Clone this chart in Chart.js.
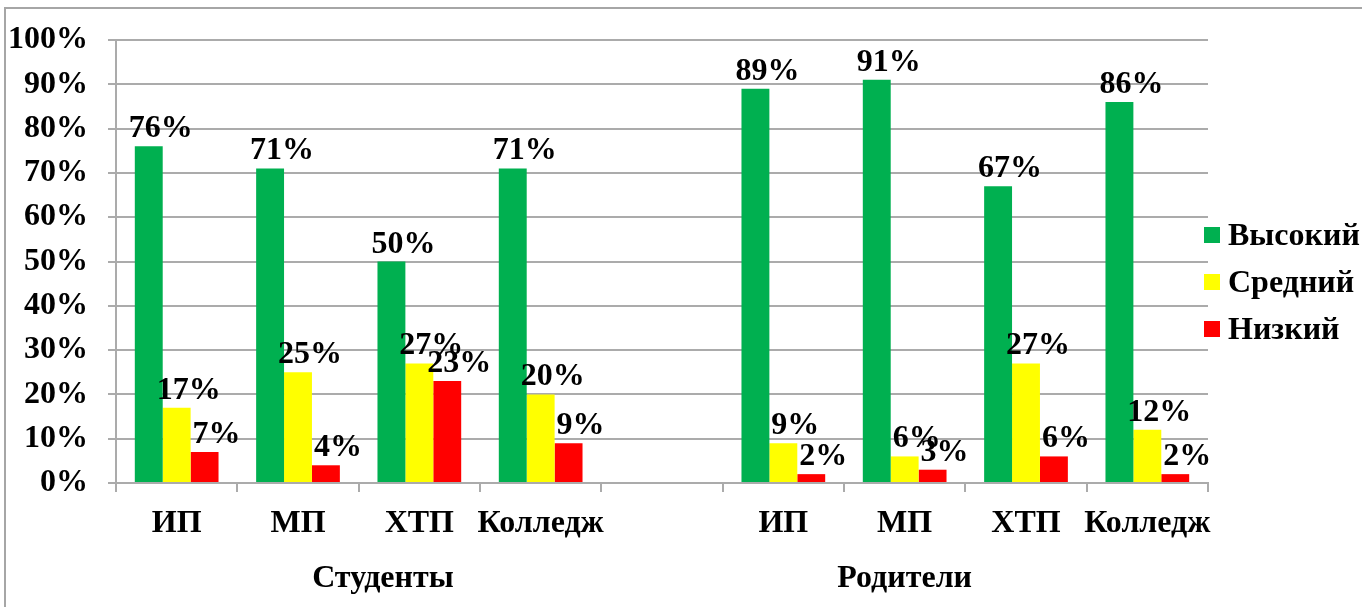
<!DOCTYPE html>
<html>
<head>
<meta charset="utf-8">
<script src="https://cdn.jsdelivr.net/npm/chart.js@4"></script>
<style>
  html, body { margin: 0; padding: 0; background: #fff; }
  #wrap { width: 1362px; height: 607px; }
</style>
</head>
<body>
<div id="wrap"><canvas id="Chart" width="1362" height="607"></canvas></div>
<script>
// categories (blank slot separates the two groups)
let categories = ['ИП', 'МП', 'ХТП', 'Колледж', '', 'ИП', 'МП', 'ХТП', 'Колледж']
let groupNames = ['Студенты', 'Родители']
let groupCenters = [1.7, 6]   // category index where each group title sits

let high = [76, 71, 50, 71, null, 89, 91, 67, 86]
let mid  = [17, 25, 27, 20, null, 9, 6, 27, 12]
let low  = [7, 4, 23, 9, null, 2, 3, 6, 2]

let yTicks = [0, 10, 20, 30, 40, 50, 60, 70, 80, 90, 100]

const FONT = "'Liberation Serif', 'Times New Roman', serif"
const GRID = '#ababab'

// frame, bar value labels, group titles and legend
const extras = {
  id: 'extras',
  beforeDraw(chart){
    let ctx = chart.ctx
    ctx.save()
    ctx.strokeStyle = '#a6a6a6'
    ctx.lineWidth = 2
    ctx.beginPath()
    ctx.moveTo(5, chart.height)
    ctx.lineTo(5, 8)
    ctx.lineTo(chart.width, 8)
    ctx.stroke()
    ctx.restore()
  },
  afterDraw(chart){
    let ctx = chart.ctx
    let area = chart.chartArea
    ctx.save()
    ctx.fillStyle = '#000'
    ctx.font = 'bold 32px ' + FONT
    ctx.textAlign = 'center'
    ctx.textBaseline = 'alphabetic'
    chart.data.datasets.forEach((ds, i) => {
      let meta = chart.getDatasetMeta(i)
      meta.data.forEach((bar, j) => {
        let v = ds.data[j]
        if (v === null) return
        ctx.fillText(v + '%', bar.x + 12, bar.y - 9)
      })
    })

    // group titles under the category labels
    let xs = chart.scales.x
    groupNames.forEach((g, i) => {
      ctx.fillText(g, xs.getPixelForValue(groupCenters[i]), 587)
    })

    // legend
    ctx.textAlign = 'left'
    chart.data.datasets.forEach((ds, i) => {
      let cy = 235 + i * 47
      ctx.fillStyle = ds.backgroundColor
      ctx.fillRect(area.right - 4, cy - 8, 16, 16)
      ctx.fillStyle = '#000'
      ctx.fillText(ds.label, area.right + 20, cy + 10)
    })
    ctx.restore()
  }
}

new Chart('Chart', {
  type: 'bar',
  data: {
    labels: categories,
    datasets: [
      { label: 'Высокий', data: high, backgroundColor: '#00b050' },
      { label: 'Средний', data: mid, backgroundColor: '#ffff00' },
      { label: 'Низкий', data: low, backgroundColor: '#ff0000' }
    ]
  },
  options: {
    responsive: false,
    animation: false,
    events: [],
    layout: { padding: { left: 0, top: 40, right: 154, bottom: 0 } },
    datasets: { bar: { categoryPercentage: 0.69, barPercentage: 1.0 } },
    plugins: { legend: { display: false }, tooltip: { enabled: false } },
    scales: {
      x: {
        afterFit(s){ s.height = 124 },
        grid: { display: true, drawOnChartArea: false, offset: true, tickLength: 9, color: GRID, lineWidth: 2 },
        border: { display: true, color: GRID, width: 2 },
        ticks: { color: '#000', padding: 13, maxRotation: 0, autoSkip: false, font: { family: FONT, size: 32, weight: 'bold' } }
      },
      y: {
        min: 0,
        max: 100,
        afterFit(s){ s.width = 116 },
        afterBuildTicks(s){ s.ticks = yTicks.map(v => ({ value: v })) },
        grid: { color: GRID, lineWidth: 2, tickLength: 8 },
        border: { display: true, color: GRID, width: 2 },
        ticks: {
          color: '#000',
          padding: 20,
          font: { family: FONT, size: 32, weight: 'bold' },
          callback: v => v + '%'
        }
      }
    }
  },
  plugins: [extras]
})
</script>
</body>
</html>
